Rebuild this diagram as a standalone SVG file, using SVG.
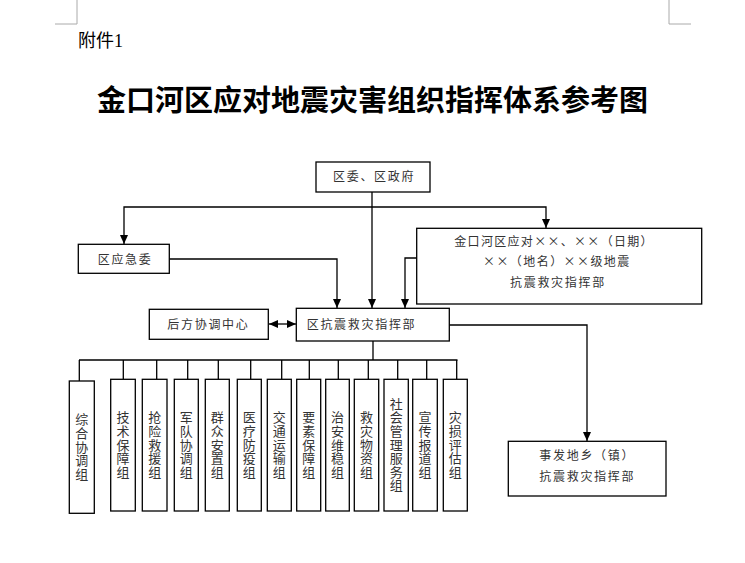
<svg xmlns="http://www.w3.org/2000/svg" width="745" height="563" viewBox="0 0 745 563">
<style>
  .box{fill:#fff;stroke:#000;stroke-width:1.3}
  .t{font-family:"Noto Sans CJK SC","Noto Sans",sans-serif;font-size:12px;fill:#333;letter-spacing:1.7px}
  .v{font-family:"Noto Sans CJK SC","Noto Sans",sans-serif;font-size:13px;fill:#333;text-anchor:middle;writing-mode:vertical-rl;letter-spacing:0.6px}
  .c{fill:none;stroke:#000;stroke-width:1.3}
  .mark{fill:none;stroke:#aaa;stroke-width:1}
</style>
<defs>
  <marker id="ah" markerUnits="userSpaceOnUse" markerWidth="9" markerHeight="8" refX="9" refY="4" orient="auto-start-reverse">
    <path d="M0,0 L9,4 L0,8 z" fill="#000"/>
  </marker>
</defs>
<rect width="745" height="563" fill="#fff"/>
<g id="page-marks">
  <path class="mark" d="M77,0 V24 H55"/>
  <path class="mark" d="M669,0 V24 H691"/>
</g>
<text x="78" y="47" font-family="'Liberation Serif','Noto Sans CJK SC',serif" font-size="18" fill="#000">附件1</text>
<text x="372.5" y="110.5" text-anchor="middle" font-family="'Noto Sans CJK SC',sans-serif" font-size="29" font-weight="bold" fill="#000">金口河区应对地震灾害组织指挥体系参考图</text>

<g id="connectors">
  <path class="c" d="M372,192 V308" marker-end="url(#ah)"/>
  <path class="c" d="M372,207 H124 V244" marker-end="url(#ah)"/>
  <path class="c" d="M372,207 H546 V228" marker-end="url(#ah)"/>
  <path class="c" d="M169,259 H337 V308" marker-end="url(#ah)"/>
  <path class="c" d="M417,258 H405 V308" marker-end="url(#ah)"/>
  <path class="c" d="M269,324 H296" marker-start="url(#ah)" marker-end="url(#ah)"/>
  <path class="c" d="M449,325 H587 V441" marker-end="url(#ah)"/>
  <path class="c" d="M373,341 V360 M79,360 H457.5"/>
  <path class="c" d="M79.3,360 V381 M123.3,360 V379.3 M156.7,360 V379.3 M187.7,360 V379.3 M218.3,360 V379.3 M250.7,360 V379.3 M281.7,360 V379.3 M309.3,360 V379.3 M338.3,360 V379.3 M368.3,360 V379.3 M397.7,360 V379.3 M426.7,360 V379.3 M456.7,360 V379.3"/>
</g>

<g id="gov">
  <rect class="box" x="316" y="162" width="114" height="30"/>
  <text class="t" x="333" y="180.5">区委、区政府</text>
</g>
<g id="emergency">
  <rect class="box" x="78.3" y="244.3" width="91" height="29"/>
  <text class="t" x="97.7" y="263.5">区应急委</text>
</g>
<g id="temp-hq">
  <rect class="box" x="416.7" y="228.3" width="285" height="75.7"/>
  <text class="t" x="454.3" y="246" textLength="200" lengthAdjust="spacing">金口河区应对××、××（日期）</text>
  <text class="t" x="483" y="266" textLength="148" lengthAdjust="spacing">××（地名）××级地震</text>
  <text class="t" x="510" y="287">抗震救灾指挥部</text>
</g>
<g id="rear">
  <rect class="box" x="149.3" y="309.3" width="119" height="30"/>
  <text class="t" x="167.3" y="328.5">后方协调中心</text>
</g>
<g id="hq">
  <rect class="box" x="296.3" y="308.3" width="153" height="32.7"/>
  <text class="t" x="306.7" y="328.5">区抗震救灾指挥部</text>
</g>
<g id="town">
  <rect class="box" x="508.3" y="441.3" width="157.7" height="54.7"/>
  <text class="t" x="539.3" y="460">事发地乡（镇）</text>
  <text class="t" x="539.3" y="481">抗震救灾指挥部</text>
</g>

<g id="g1"><rect class="box" x="69.3" y="381" width="25" height="132.3"/><text class="v" x="81.8" y="447">综合协调组</text></g>
<g id="g2"><rect class="box" x="110.7" y="379.3" width="24.6" height="131.7"/><text class="v" x="123" y="445">技术保障组</text></g>
<g id="g3"><rect class="box" x="142.3" y="379.3" width="24.7" height="131.7"/><text class="v" x="154.7" y="445">抢险救援组</text></g>
<g id="g4"><rect class="box" x="174.3" y="379.3" width="24" height="131.7"/><text class="v" x="186.3" y="445">军队协调组</text></g>
<g id="g5"><rect class="box" x="205.3" y="379.3" width="24" height="131.7"/><text class="v" x="217.3" y="445">群众安置组</text></g>
<g id="g6"><rect class="box" x="237.3" y="379.3" width="24" height="131.7"/><text class="v" x="249.3" y="445">医疗防疫组</text></g>
<g id="g7"><rect class="box" x="267.3" y="379.3" width="24" height="131.7"/><text class="v" x="279.3" y="445">交通运输组</text></g>
<g id="g8"><rect class="box" x="296.7" y="379.3" width="24" height="131.7"/><text class="v" x="308.7" y="445">要素保障组</text></g>
<g id="g9"><rect class="box" x="325.7" y="379.3" width="23.6" height="131.7"/><text class="v" x="337.5" y="445">治安维稳组</text></g>
<g id="g10"><rect class="box" x="354.3" y="379.3" width="24.4" height="131.7"/><text class="v" x="366.5" y="445">救灾物资组</text></g>
<g id="g11"><rect class="box" x="384" y="379.3" width="24.3" height="131.7"/><text class="v" x="396.2" y="445">社会管理服务组</text></g>
<g id="g12"><rect class="box" x="412.7" y="379.3" width="24.6" height="131.7"/><text class="v" x="425" y="445">宣传报道组</text></g>
<g id="g13"><rect class="box" x="443.3" y="379.3" width="24" height="131.7"/><text class="v" x="455.3" y="445">灾损评估组</text></g>
</svg>
